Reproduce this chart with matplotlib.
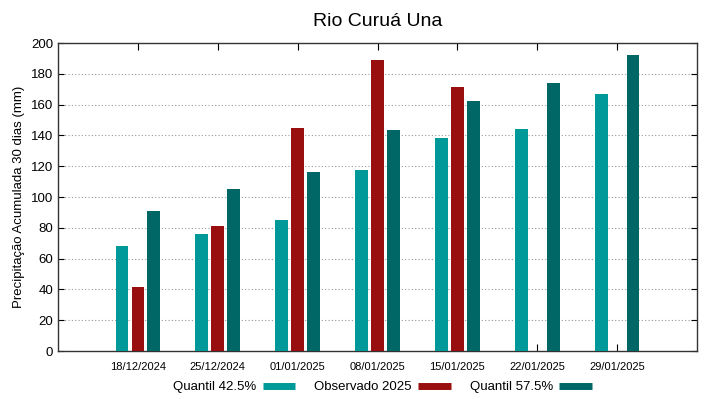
import numpy as np
import matplotlib.pyplot as plt
from matplotlib.lines import Line2D

plt.rcParams['font.family'] = ['Liberation Sans', 'DejaVu Sans']

# --- Data ---
datas = ["18/12/2024", "25/12/2024", "01/01/2025", "08/01/2025",
         "15/01/2025", "22/01/2025", "29/01/2025"]
quantil_425 = [68, 76, 85, 117.5, 138, 144, 167]
observado_2025 = [41.5, 81, 145, 189, 171.5, np.nan, np.nan]
quantil_575 = [91, 105, 116, 143.5, 162.5, 174, 192]

cor_q425 = "#009999"
cor_obs = "#990e0e"
cor_q575 = "#006666"

x = np.arange(len(datas))
width = 0.16

fig = plt.figure(figsize=(7.19, 3.99), dpi=100)
ax = fig.add_axes([0.0807, 0.1203, 0.8887, 0.7719])

ax.bar(x - 0.2, quantil_425, width, color=cor_q425, zorder=3)
ax.bar(x, observado_2025, width, color=cor_obs, zorder=3)
ax.bar(x + 0.2, quantil_575, width, color=cor_q575, zorder=3)

ax.set_xlim(-1, len(datas))
ax.set_ylim(0, 200)
ax.set_yticks(np.arange(0, 201, 20))
ax.set_xticks(x)
ax.set_xticklabels(datas, fontsize=8)
ax.tick_params(axis='y', labelsize=9.5, direction='in', length=4, right=True)
ax.tick_params(axis='x', direction='in', length=5, top=True, pad=8)

for yv in range(20, 200, 20):
    ax.axhline(yv, color='#999999', lw=0.8, ls=(0, (1, 2)), zorder=1)

for s in ax.spines.values():
    s.set_linewidth(1.0)
    s.set_color('#333333')

ax.set_ylabel("Precipitação Acumulada 30 dias (mm)", fontsize=9.5)
ax.set_title("Rio Curuá Una", fontsize=14, pad=12)

handles = [Line2D([], [], color=cor_q425, lw=5, solid_capstyle='butt'),
           Line2D([], [], color=cor_obs, lw=5, solid_capstyle='butt'),
           Line2D([], [], color=cor_q575, lw=5, solid_capstyle='butt')]
labels = ["Quantil 42.5%", "Observado 2025", "Quantil 57.5%"]
fig.legend(handles, labels, loc='center', bbox_to_anchor=(0.532, 0.03),
           ncol=3, frameon=False, markerfirst=False, fontsize=9.5,
           handlelength=2.5, handletextpad=0.5, columnspacing=1.4)

fig.savefig("out.png", dpi=100)
